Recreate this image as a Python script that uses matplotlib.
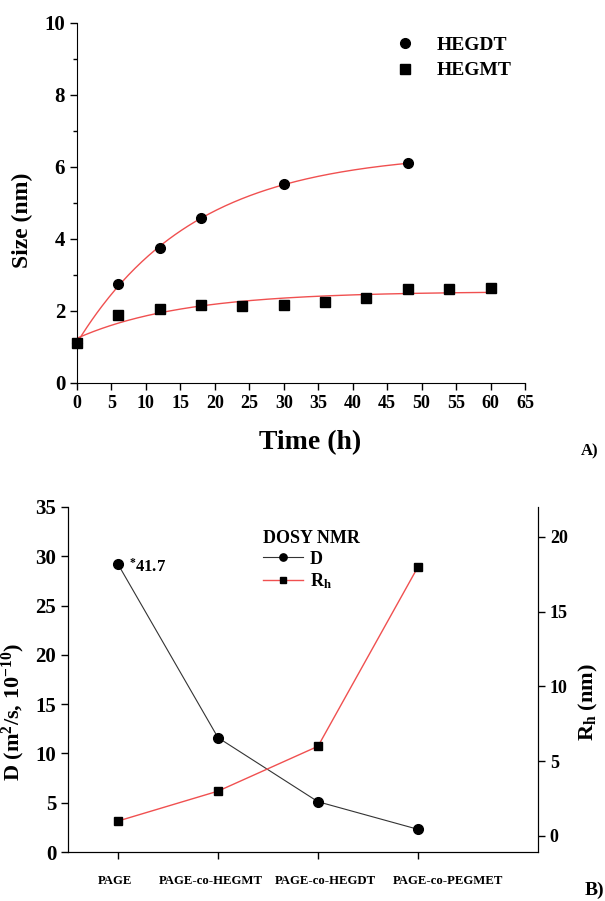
import matplotlib
matplotlib.use("Agg")
import matplotlib.pyplot as plt
from matplotlib.ticker import MultipleLocator
import numpy as np

plt.rcParams['font.family'] = ['Liberation Serif', 'DejaVu Serif']
plt.rcParams['font.weight'] = 'bold'
plt.rcParams['mathtext.fontset'] = 'custom'
plt.rcParams['mathtext.rm'] = 'Liberation Serif:bold'
plt.rcParams['mathtext.it'] = 'Liberation Serif:bold'
plt.rcParams['mathtext.bf'] = 'Liberation Serif:bold'

# panel A data
t_hegdt = [0, 6, 12, 18, 30, 48]
size_hegdt = [1.1, 2.75, 3.75, 4.58, 5.52, 6.1]
t_hegmt = [0, 6, 12, 18, 24, 30, 36, 42, 48, 54, 60]
size_hegmt = [1.1, 1.88, 2.05, 2.18, 2.15, 2.18, 2.25, 2.35, 2.6, 2.62, 2.65]

# panel B data
samples = ['PAGE', 'PAGE-co-HEGMT', 'PAGE-co-HEGDT', 'PAGE-co-PEGMET']
D_vals = [29.2, 11.6, 5.1, 2.3]
Rh_vals = [1.0, 3.0, 6.0, 18.0]

red = '#f05050'


def exp_fit(x, y):
    # y = A - B*exp(-x/tau), tau by grid search, A,B by least squares
    x = np.asarray(x, float)
    y = np.asarray(y, float)
    best = None
    for tau in np.linspace(2, 80, 800):
        M = np.column_stack([np.ones_like(x), -np.exp(-x / tau)])
        coef, *_ = np.linalg.lstsq(M, y, rcond=None)
        r = np.sum((M @ coef - y) ** 2)
        if best is None or r < best[0]:
            best = (r, tau, coef)
    _, tau, (A, B) = best
    xs = np.linspace(x.min(), x.max(), 200)
    return xs, A - B * np.exp(-xs / tau)


fig = plt.figure(figsize=(6.05, 9.01), dpi=100)

# ---------- A ----------
axA = fig.add_axes([77 / 605, 1 - 383 / 901, 448 / 605, 360 / 901])
xs, ys = exp_fit(t_hegdt, size_hegdt)
axA.plot(xs, ys, color=red, lw=1)
xs, ys = exp_fit(t_hegmt, size_hegmt)
axA.plot(xs, ys, color=red, lw=1)
axA.plot(t_hegdt, size_hegdt, 'o', color='black', ms=7, label='HEGDT', clip_on=False)
axA.plot(t_hegmt, size_hegmt, 's', color='black', ms=6.5, label='HEGMT', clip_on=False)
axA.set_xlim(0, 65)
axA.set_ylim(0, 10)
axA.xaxis.set_major_locator(MultipleLocator(5))
axA.yaxis.set_major_locator(MultipleLocator(2))
axA.yaxis.set_minor_locator(MultipleLocator(1))
axA.spines['top'].set_visible(False)
axA.spines['right'].set_visible(False)
axA.tick_params(direction='out', length=5, width=1)
axA.tick_params(which='minor', direction='out', length=3, width=1)
axA.tick_params(axis='x', labelsize=13)
axA.tick_params(axis='y', labelsize=15)
axA.set_xlabel('Time (h)', fontsize=20, fontweight='bold')
axA.xaxis.set_label_coords(0.52, -0.13)
axA.set_ylabel('Size (nm)', fontsize=17, fontweight='bold')
axA.yaxis.set_label_coords(-0.098, 0.453)
axA.legend(loc='upper right', bbox_to_anchor=(0.995, 0.995), frameon=False,
           fontsize=14, handlelength=1.0, handletextpad=1.1,
           borderaxespad=0.2, labelspacing=0.4)
fig.text(590 / 605, 1 - 451 / 901, 'A)', fontsize=12, fontweight='bold',
         ha='center', va='center')

# ---------- B ----------
axB = fig.add_axes([68 / 605, 1 - 852 / 901, 470 / 605, 345 / 901])
ax2 = axB.twinx()
pos = np.arange(len(samples))
lD, = axB.plot(pos, D_vals, '-o', color='#333333', lw=0.8, mfc='black', mec='black',
               ms=7, label='D')
lR, = ax2.plot(pos, Rh_vals, '-s', color=red, lw=1, mfc='black', mec='black',
               ms=6, label='R$_{\\rm h}$')
axB.set_xlim(-0.5, 4.2)
axB.set_ylim(0, 35)
ax2.set_ylim(-1.07, 22)
axB.set_xticks(pos)
axB.set_xticklabels([])
# category labels sit slightly off their ticks, as in the original figure
label_shift = [-3, -7, 7, 30]
for p, name, dx in zip(pos, samples, label_shift):
    axB.annotate(name, xy=(p, 0), xycoords=axB.get_xaxis_transform(),
                 xytext=(dx * 0.72, -21), textcoords='offset points',
                 fontsize=9.2, fontweight='bold', ha='center', va='center',
                 annotation_clip=False)
axB.yaxis.set_major_locator(MultipleLocator(5))
ax2.yaxis.set_major_locator(MultipleLocator(5))
for a in (axB, ax2):
    a.spines['top'].set_visible(False)
    a.tick_params(direction='out', length=5, width=1)
axB.tick_params(axis='y', labelsize=15)
ax2.tick_params(axis='y', labelsize=13)
axB.annotate('$^{*}$41.7', xy=(pos[0], D_vals[0]), xytext=(8, -2),
             textcoords='offset points', fontsize=12, fontweight='bold',
             ha='left', va='center')
leg = axB.legend(handles=[lD, lR], title='DOSY NMR', loc='upper left',
                 bbox_to_anchor=(0.38, 0.98), frameon=False, fontsize=13,
                 title_fontproperties={'weight': 'bold', 'size': 13},
                 handlelength=2.2, handletextpad=0.4, labelspacing=0.2,
                 markerscale=0.75)
leg._legend_box.align = 'left'
fig.text(13 / 605, 1 - 712 / 901, 'D (m$^{2}$/s, 10$^{-10}$)', rotation=90,
         fontsize=16, fontweight='bold', ha='center', va='center')
fig.text(588 / 605, 1 - 702 / 901, 'R$_{\\rm h}$ (nm)', rotation=90,
         fontsize=16, fontweight='bold', ha='center', va='center')
fig.text(594 / 605, 1 - 890 / 901, 'B)', fontsize=14, fontweight='bold',
         ha='center', va='center')

fig.savefig('out.png', dpi=100)
